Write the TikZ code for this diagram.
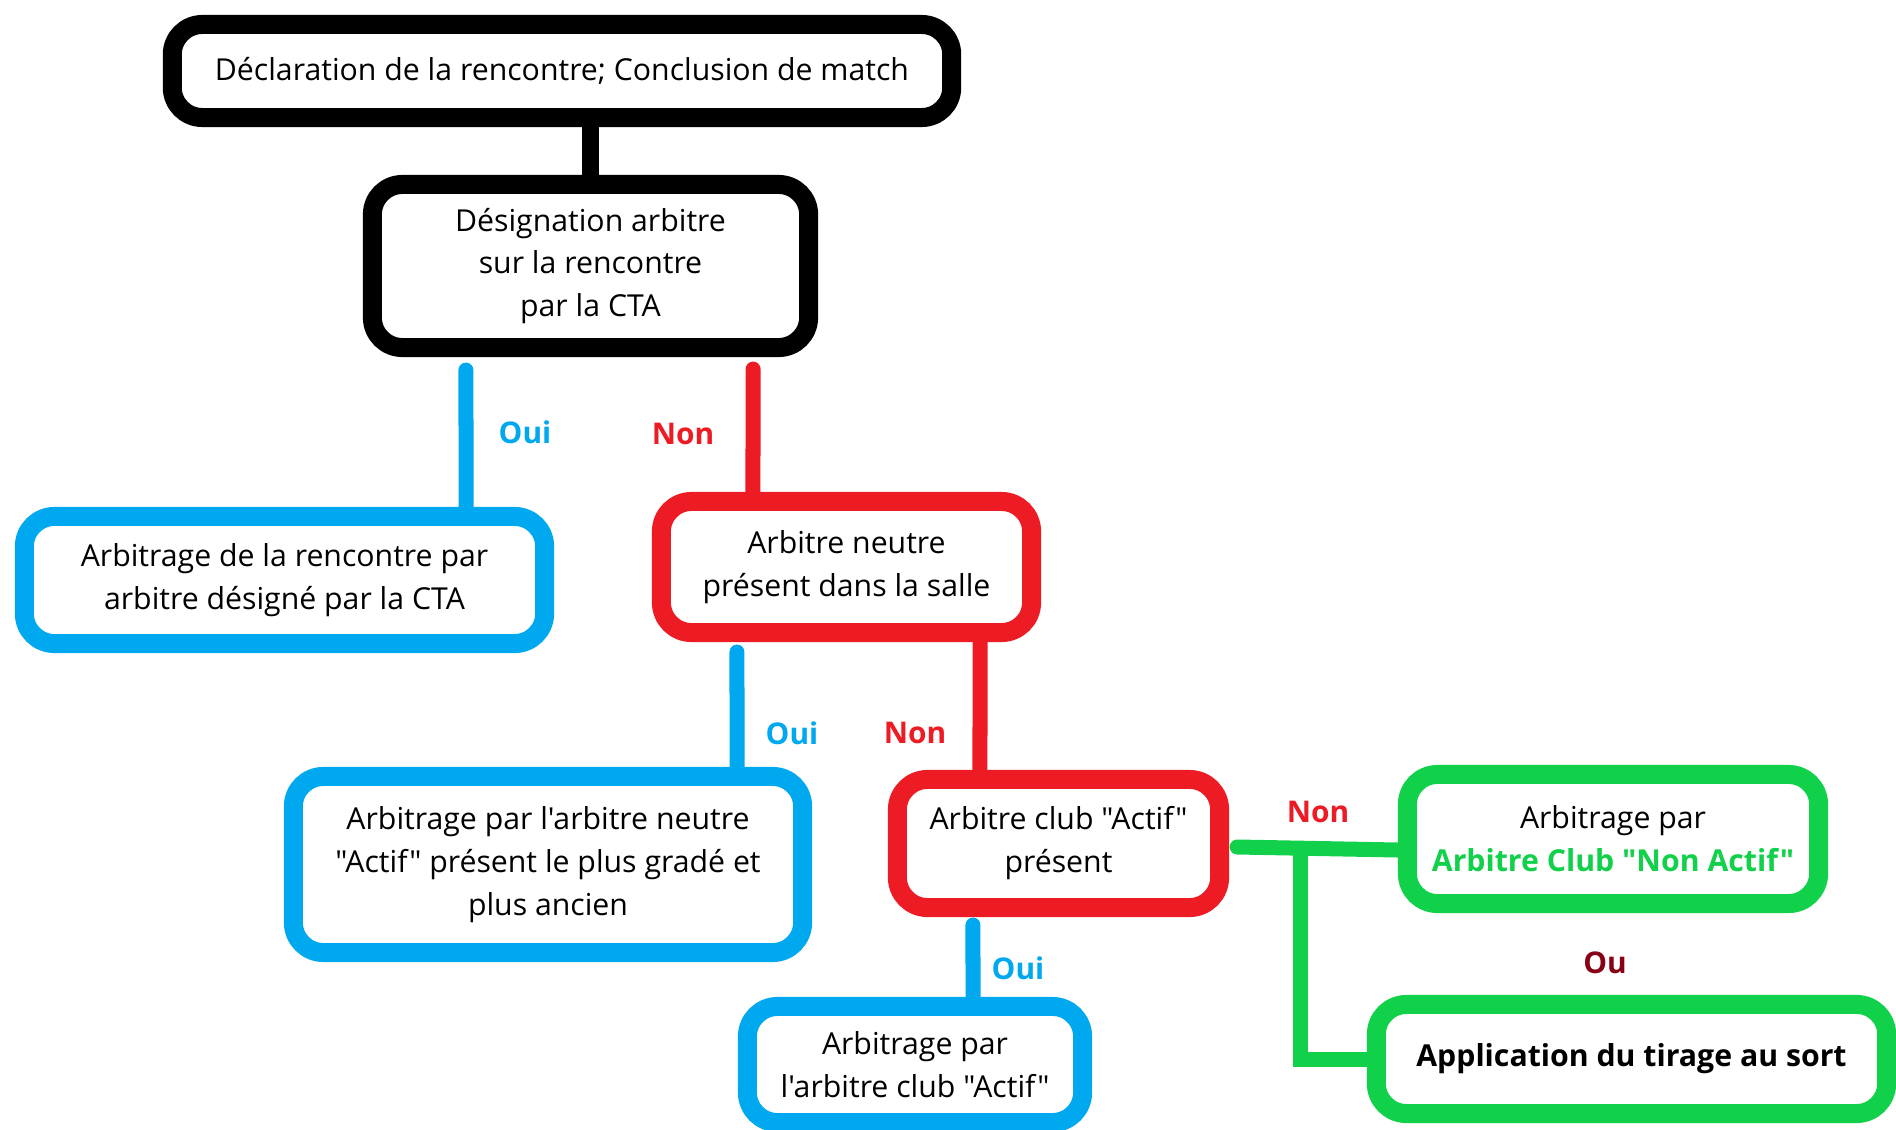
\documentclass[tikz,border=0pt]{standalone}
\usepackage{fontspec}
\setmainfont{Open Sans}[Ligatures=TeXOff]
\usetikzlibrary{backgrounds}
\definecolor{oui}{RGB}{0,168,240}
\definecolor{non}{RGB}{237,28,36}
\definecolor{vert}{RGB}{17,209,75}
\definecolor{ou}{RGB}{136,0,21}

\begin{document}
\begin{tikzpicture}[x=0.01cm,y=-0.01cm,
		font=\fontsize{8.6}{12.2}\selectfont,
		box node/.style={rectangle,rounded corners=0.3cm,draw,fill=white,line width=0.19cm,align=center,inner sep=0pt},
		black node/.style={box node,draw=black},
		blue node/.style={box node,draw=oui},
		red node/.style={box node,draw=non},
		green node/.style={box node,draw=vert},
		link/.style={line width=0.15cm,line cap=round},
		yes label/.style={text=oui,font=\fontsize{8.5}{10}\selectfont\bfseries},
		no label/.style={text=non,font=\fontsize{8.5}{10}\selectfont\bfseries},
		or label/.style={text=ou,font=\fontsize{8.5}{10}\selectfont\bfseries}]
		
		\useasboundingbox (0,0) rectangle (1896,1130);
		
		\node[black node, minimum width=7.79cm, minimum height=0.93cm] (1) at (562,71) {D\'eclaration de la rencontre; Conclusion de match};
		\node[black node, minimum width=4.36cm, minimum height=1.63cm] (2) at (590.5,266) {D\'esignation arbitre\\sur la rencontre\\par la CTA};
		\node[blue node, minimum width=5.2cm, minimum height=1.27cm] (3) at (284.5,580) {Arbitrage de la rencontre par\\arbitre d\'esign\'e par la CTA};
		\node[red node, minimum width=3.7cm, minimum height=1.31cm] (4) at (846.5,567) {Arbitre neutre\\pr\'esent dans la salle};
		\node[blue node, minimum width=5.09cm, minimum height=1.76cm] (5) at (548,864.5) {Arbitrage par l'arbitre neutre\\"Actif" pr\'esent le plus grad\'e et\\plus ancien};
		\node[red node, minimum width=3.22cm, minimum height=1.28cm] (6) at (1058.5,843.5) {Arbitre club "Actif"\\pr\'esent};
		\node[blue node, minimum width=3.35cm, minimum height=1.16cm] (7) at (915,1064.5) {Arbitrage par\\l'arbitre club "Actif"};
		\node[green node, minimum width=4.11cm, minimum height=1.29cm] (8) at (1613,839) {Arbitrage par\\\textcolor{vert}{\bfseries Arbitre Club "Non Actif"}};
		\node[green node, minimum width=5.1cm, minimum height=1.09cm] (9) at (1631.5,1059) {\bfseries Application du tirage au sort};
		
		\node[yes label] (oui1) at (525,432) {Oui};
		\node[no label] (non1) at (683,434) {Non};
		\node[yes label] (oui2) at (792,733) {Oui};
		\node[no label] (non2) at (915,733) {Non};
		\node[yes label] (oui3) at (1018,968) {Oui};
		\node[no label] (non3) at (1318,812) {Non};
		\node[or label] (ou) at (1605,963) {Ou};
		
		\begin{scope}[on background layer]
		\path[link]
		(2.north) edge[draw=black, line width=0.17cm, line cap=butt] (2.north |- 1.south)
		([xshift=-1.245cm,yshift=-0.13cm]2.south) edge[draw=oui] ([xshift=1.815cm]3.north)
		([xshift=1.625cm,yshift=-0.12cm]2.south) edge[draw=non] ([xshift=-0.935cm]4.north)
		([xshift=-1.095cm,yshift=-0.1cm]4.south) edge[draw=oui] ([xshift=1.89cm]5.north)
		([xshift=1.335cm]4.south) edge[draw=non] ([xshift=-0.785cm]6.north)
		([xshift=-0.855cm,yshift=-0.08cm]6.south) edge[draw=oui] ([xshift=0.58cm]7.north)
		([xshift=0.08cm,yshift=-0.035cm]6.east) edge[draw=vert] ([yshift=-0.11cm]8.west);
		\draw[link, draw=vert, line cap=butt] ([xshift=-0.97cm,yshift=-0.1cm]8.west) |- (9.west);
		\end{scope}
\end{tikzpicture}
\end{document}
